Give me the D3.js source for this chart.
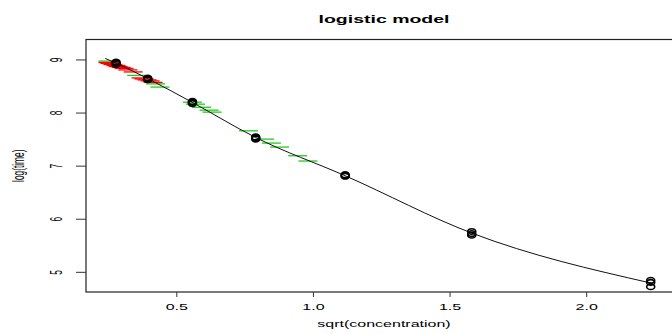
<!DOCTYPE html>
<html>
<head>
<meta charset="utf-8">
<script src="https://cdn.jsdelivr.net/npm/d3@7"></script>
<style>
  body { margin: 0; background: #fff; }
  svg { display: block; }
  text { font-family: "Liberation Sans", Arial, Helvetica, sans-serif; fill: #000; }
</style>
</head>
<body>
<svg id="chart"></svg>
<script>
// sqrt(concentration) of each dilution and the observed log(time) replicates
const concSqrt = [0.2795, 0.3953, 0.5590, 0.7906, 1.1180, 1.5811, 2.2361];
const logTimeObs = [
    [8.95, 8.93, 8.91],
    [8.65, 8.63, 8.62],
    [8.21, 8.19, 8.17],
    [7.54, 7.52, 7.50],
    [6.83, 6.81, 6.80],
    [5.76, 5.72, 5.69],
    [4.84, 4.80, 4.72]
];

// fitted logistic curve
const curveX = [0.24, 0.2795, 0.3953, 0.5590, 0.7906, 1.1180, 1.5811, 2.2361];
const curveY = [9.02, 8.93, 8.64, 8.19, 7.53, 6.81, 5.73, 4.79];

// red dashes
const redX = [0.250, 0.257, 0.268, 0.279, 0.287, 0.298, 0.309, 0.323, 0.342, 0.371, 0.382, 0.393, 0.404, 0.415];
const redY = [8.944, 8.925, 8.906, 8.887, 8.868, 8.850, 8.831, 8.803, 8.765, 8.652, 8.633, 8.615, 8.596, 8.568];

// green dashes
const greenX = [0.250, 0.355, 0.424, 0.440, 0.559, 0.570, 0.592, 0.620, 0.631, 0.764, 0.823, 0.848, 0.878, 0.944, 0.982];
const greenY = [8.97, 8.70, 8.54, 8.48, 8.195, 8.158, 8.10, 8.045, 8.008, 7.656, 7.50, 7.425, 7.35, 7.186, 7.087];

const xTicks = [0.5, 1.0, 1.5, 2.0];
const yTicks = [5, 6, 7, 8, 9];

const W = 672, H = 334;
const plot = { left: 86, right: 678, top: 39.5, bottom: 292 };
const squash = 0.52;   // the picture is squeezed vertically

const svg = d3.select("#chart").attr("width", W).attr("height", H);

const x = d3.scaleLinear().domain([0.1695, 2.336]).range([plot.left, plot.right]);
const y = d3.scaleLinear().domain([4.62, 9.376]).range([plot.bottom, plot.top]);

// box
svg.append("rect")
    .attr("x", plot.left).attr("y", plot.top)
    .attr("width", plot.right - plot.left).attr("height", plot.bottom - plot.top)
    .attr("fill", "none").attr("stroke", "#222").attr("stroke-width", 1.2);

// axes
const yAxis = svg.append("g")
    .attr("transform", `translate(${plot.left},0)`)
    .call(d3.axisLeft(y).tickValues(yTicks).tickSize(10).tickFormat(d3.format("d")));
yAxis.select(".domain").remove();
yAxis.selectAll("line").attr("stroke", "#333");
yAxis.selectAll("text")
    .attr("x", null).attr("dy", null)
    .attr("text-anchor", "middle")
    .attr("transform", `translate(-24,0) scale(1,${squash}) rotate(-90)`)
    .style("font-size", "16px");

const xAxis = svg.append("g")
    .attr("transform", `translate(0,${plot.bottom})`)
    .call(d3.axisBottom(x).tickValues(xTicks).tickSize(5).tickFormat(d3.format(".1f")));
xAxis.select(".domain").remove();
xAxis.selectAll("line").attr("stroke", "#333");
xAxis.selectAll("text")
    .attr("y", null).attr("dy", null)
    .attr("transform", `translate(0,17.7) scale(1,${squash})`)
    .style("font-size", "16px");

// titles
svg.append("text")
    .attr("text-anchor", "middle")
    .attr("transform", `translate(384,23.3) scale(1,${squash})`)
    .style("font-size", "19.5px").style("font-weight", "bold")
    .text("logistic model");

svg.append("text")
    .attr("text-anchor", "middle")
    .attr("transform", `translate(384,327.2) scale(1,${squash})`)
    .style("font-size", "16px")
    .text("sqrt(concentration)");

svg.append("text")
    .attr("text-anchor", "middle")
    .attr("transform", `translate(24,${(plot.top + plot.bottom) / 2}) scale(1,${squash}) rotate(-90)`)
    .style("font-size", "16px")
    .text("log(time)");

// dashes
const dashHalf = 9.5;
function dashes(xs, ys, color) {
    svg.append("g").selectAll("line")
        .data(xs.map((v, i) => [v, ys[i]]))
        .enter().append("line")
        .attr("x1", d => x(d[0]) - dashHalf)
        .attr("x2", d => x(d[0]) + dashHalf)
        .attr("y1", d => y(d[1]))
        .attr("y2", d => y(d[1]))
        .attr("stroke", color)
        .attr("stroke-width", 1.3);
}
dashes(greenX, greenY, "#1fcc1f");
dashes(redX, redY, "#ff0000");

// fitted curve
svg.append("path")
    .datum(curveX.map((v, i) => [v, curveY[i]]))
    .attr("fill", "none")
    .attr("stroke", "#111")
    .attr("stroke-width", 1)
    .attr("d", d3.line().x(d => x(d[0])).y(d => y(d[1])).curve(d3.curveMonotoneX));

// observed points
const pts = [];
concSqrt.forEach((c, i) => logTimeObs[i].forEach(v => pts.push([c, v])));
svg.append("g").selectAll("ellipse")
    .data(pts)
    .enter().append("ellipse")
    .attr("cx", d => x(d[0]))
    .attr("cy", d => y(d[1]))
    .attr("rx", 4)
    .attr("ry", 2.8)
    .attr("fill", "none")
    .attr("stroke", "#000")
    .attr("stroke-width", 1.6);
</script>
</body>
</html>
